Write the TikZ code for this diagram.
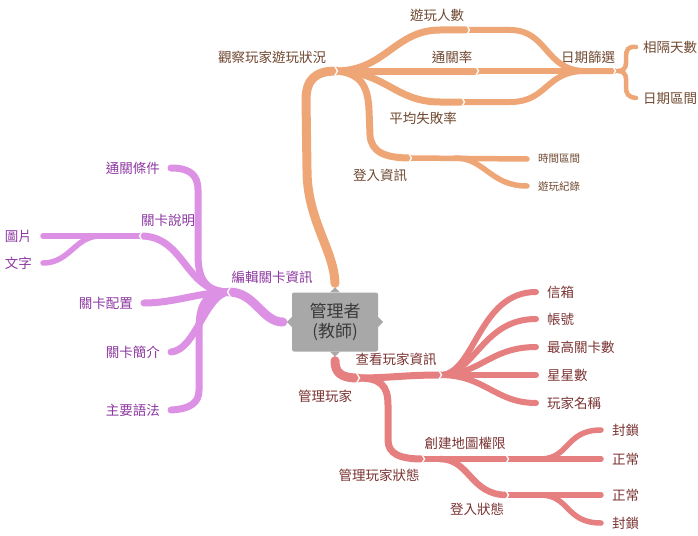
\documentclass[tikz,border=0pt]{standalone}
\usepackage{fontspec}
\setmainfont{Noto Sans CJK TC}
\usetikzlibrary{positioning}

\definecolor{obranch}{RGB}{239,166,118}
\definecolor{otext}{RGB}{112,72,48}
\definecolor{pbranch}{RGB}{221,145,228}
\definecolor{ptext}{RGB}{140,55,160}
\definecolor{rbranch}{RGB}{230,127,127}
\definecolor{rtext}{RGB}{122,50,50}
\definecolor{boxgray}{RGB}{168,168,168}
\definecolor{rootgray}{RGB}{58,58,58}

% white notch where a branch starts
\newcommand{\notchr}[1]{\draw[notch] ([shift={(-2pt,6pt)}]#1) -- ([shift={(1.5pt,0pt)}]#1) -- ([shift={(-2pt,-6pt)}]#1);}
\newcommand{\notchl}[1]{\draw[notch] ([shift={(2pt,6pt)}]#1) -- ([shift={(-1.5pt,0pt)}]#1) -- ([shift={(2pt,-6pt)}]#1);}

\begin{document}
\begin{tikzpicture}[x=1pt,y=-1pt,
    obr/.style={draw=obranch,line width=#1,line cap=round},
    pbr/.style={draw=pbranch,line width=#1,line cap=round},
    rbr/.style={draw=rbranch,line width=#1,line cap=round},
    notch/.style={white,line width=1.3pt},
    olab/.style={text=otext,inner sep=1pt,font=\fontsize{13.5}{16}\selectfont},
    plab/.style={text=ptext,inner sep=1pt,font=\fontsize{13.5}{16}\selectfont},
    rlab/.style={text=rtext,inner sep=1pt,font=\fontsize{13.5}{16}\selectfont},
    small/.style={font=\fontsize{10.5}{12}\selectfont}]
  \useasboundingbox (0,0) rectangle (698,535);

  % root
  \node[fill=boxgray,rounded corners=2pt,minimum width=86pt,minimum height=59pt,
    align=center,text=rootgray,font=\fontsize{17}{20}\selectfont] (root) at (335,322) {管理者\\(教師)};
  \fill[boxgray] ([xshift=-5]root.north) -- ([yshift=5]root.north) -- ([xshift=5]root.north) -- cycle;
  \fill[boxgray] ([xshift=-5]root.south) -- ([yshift=-5]root.south) -- ([xshift=5]root.south) -- cycle;
  \fill[boxgray] ([yshift=-5]root.west) -- ([xshift=-5]root.west) -- ([yshift=5]root.west) -- cycle;
  \fill[boxgray] ([yshift=-5]root.east) -- ([xshift=5]root.east) -- ([yshift=5]root.east) -- cycle;

  % labels
  \node[olab] (watch) at (272,57) {觀察玩家遊玩狀況};
  \node[olab] (count) at (437,15) {遊玩人數};
  \node[olab] (clear) at (452,57) {通關率};
  \node[olab] (fail) at (423,118) {平均失敗率};
  \node[olab] (login) at (380,175) {登入資訊};
  \node[olab] (date) at (588,57) {日期篩選};
  \node[olab,anchor=west] (days) at (642,47) {相隔天數};
  \node[olab,anchor=west] (range) at (642,98) {日期區間};
  \node[olab,small,anchor=west] (time) at (537,159) {時間區間};
  \node[olab,small,anchor=west] (log) at (537,186) {遊玩紀錄};

  \node[plab] (edit) at (272,277) {編輯關卡資訊};
  \node[plab,anchor=east] (pass) at (161,168) {通關條件};
  \node[plab] (desc) at (168,220) {關卡說明};
  \node[plab,anchor=east] (pic) at (33,236) {圖片};
  \node[plab,anchor=east] (txt) at (33,263) {文字};
  \node[plab,anchor=east] (layout) at (134,303) {關卡配置};
  \node[plab,anchor=east] (intro) at (161,352) {關卡簡介};
  \node[plab,anchor=east] (syn) at (161,410) {主要語法};

  \node[rlab] (manage) at (325,396) {管理玩家};
  \node[rlab] (view) at (396,359) {查看玩家資訊};
  \node[rlab,anchor=west] (mail) at (546,292) {信箱};
  \node[rlab,anchor=west] (acct) at (546,319) {帳號};
  \node[rlab,anchor=west] (level) at (546,347) {最高關卡數};
  \node[rlab,anchor=west] (star) at (546,375) {星星數};
  \node[rlab,anchor=west] (pname) at (546,403) {玩家名稱};
  \node[rlab] (state) at (379,475) {管理玩家狀態};
  \node[rlab] (create) at (465,443) {創建地圖權限};
  \node[rlab] (sign) at (477,509) {登入狀態};
  \node[rlab,anchor=west] (lock1) at (611,430) {封鎖};
  \node[rlab,anchor=west] (ok1) at (611,459) {正常};
  \node[rlab,anchor=west] (ok2) at (611,495) {正常};
  \node[rlab,anchor=west] (lock2) at (611,523) {封鎖};

  % orange branch
  \coordinate (oj) at (336,71);
  \coordinate (n1) at (468,30);
  \coordinate (n2) at (477,71);
  \coordinate (n3) at (463,102);
  \coordinate (n4) at (410,158);
  \coordinate (dj) at (614,71);
  \draw[obr=9pt] ([yshift=9]root.north) .. controls (334,250) and (307,220) .. (307,170)
    -- (306,100) .. controls (306,80) and (315,71) .. (oj);
  \draw[obr=7pt] (oj) .. controls (385,71) and (395,30) .. (440,30) -- (n1);
  \draw[obr=7pt] (oj) -- (n2);
  \draw[obr=7pt] (oj) .. controls (385,71) and (395,102) .. (440,102) -- (n3);
  \draw[obr=7pt] (oj) .. controls (362,73) and (368,88) .. (369,110) -- (370,135)
    .. controls (371,152) and (385,158) .. (n4);
  \draw[obr=6pt] (n1) -- (510,30) .. controls (548,30) and (545,71) .. (585,71) -- (dj);
  \draw[obr=6pt] (n2) -- (dj);
  \draw[obr=6pt] (n3) -- (510,102) .. controls (548,102) and (545,71) .. (585,71);
  \draw[obr=5.5pt] (n4) -- ([xshift=-10]time.west);
  \draw[obr=5.5pt] (455,158) .. controls (485,158) and (490,186) .. ([xshift=-10]log.west);
  \draw[obr=4.5pt] (dj) -- (618,71);
  \draw[obr=4.5pt] ([xshift=-6]days.west) .. controls (628,46) and (626,50) .. (626,57) -- (626,63)
    .. controls (626,68) and (623,71) .. (618,71) .. controls (623,71) and (626,74) .. (626,79)
    -- (626,87) .. controls (626,94) and (628,97) .. ([xshift=-6]range.west);

  % purple branch
  \coordinate (pn) at (229,292);
  \coordinate (pd) at (141,236);
  \draw[pbr=9pt] ([xshift=-9]root.west) .. controls (262,322) and (255,292) .. (pn);
  \draw[pbr=7pt] (pn) .. controls (205,292) and (198,278) .. (198,255) -- (198,190)
    .. controls (198,175) and (190,168) .. ([xshift=10]pass.east);
  \draw[pbr=7pt] (pn) .. controls (205,292) and (199,305) .. (199,330) -- (199,390)
    .. controls (199,403) and (190,409) .. ([xshift=10]syn.east);
  \draw[pbr=7pt] (pn) .. controls (205,294) and (196,350) .. ([xshift=10]intro.east);
  \draw[pbr=7pt] (pn) .. controls (200,292) and (175,303) .. ([xshift=10]layout.east);
  \draw[pbr=7pt] (pn) .. controls (185,292) and (185,236) .. (pd);
  \draw[pbr=5.5pt] (pd) -- ([xshift=10]pic.east);
  \draw[pbr=5.5pt] (100,236) .. controls (75,236) and (70,263) .. ([xshift=10]txt.east);

  % red branch
  \coordinate (rn) at (358,378);
  \coordinate (rv) at (440,375);
  \coordinate (rs) at (423,459);
  \coordinate (rm) at (507,459);
  \coordinate (rl) at (507,495);
  \draw[rbr=9pt] ([yshift=-9]root.south) .. controls (335,372) and (340,378) .. (rn);
  \draw[rbr=7pt] (rn) .. controls (390,378) and (405,375) .. (rv);
  \draw[rbr=6pt] (rv) .. controls (475,375) and (478,292) .. ([xshift=-10]mail.west);
  \draw[rbr=6pt] (rv) .. controls (475,375) and (482,319) .. ([xshift=-10]acct.west);
  \draw[rbr=6pt] (rv) .. controls (480,375) and (490,347) .. ([xshift=-10]level.west);
  \draw[rbr=6pt] (rv) -- ([xshift=-10]star.west);
  \draw[rbr=6pt] (rv) .. controls (485,375) and (495,403) .. ([xshift=-10]pname.west);
  \draw[rbr=7pt] (rn) .. controls (380,378) and (388,385) .. (388,405) -- (388,440)
    .. controls (388,454) and (400,459) .. (rs);
  \draw[rbr=6.5pt] (rs) -- (rm);
  \draw[rbr=6.5pt] (440,459) .. controls (470,459) and (470,495) .. (rl);
  \draw[rbr=5.5pt] (rm) -- ([xshift=-10]ok1.west);
  \draw[rbr=5.5pt] (540,459) .. controls (570,459) and (565,430) .. ([xshift=-10]lock1.west);
  \draw[rbr=5.5pt] (rl) -- ([xshift=-10]ok2.west);
  \draw[rbr=5.5pt] (540,495) .. controls (570,495) and (565,523) .. ([xshift=-10]lock2.west);

  % notches
  \notchr{oj} \notchr{n1} \notchr{n2} \notchr{n3} \notchr{n4} \notchr{dj}
  \notchl{pn} \notchl{pd}
  \notchr{rn} \notchr{rv} \notchr{rs} \notchr{rm} \notchr{rl}
\end{tikzpicture}
\end{document}
